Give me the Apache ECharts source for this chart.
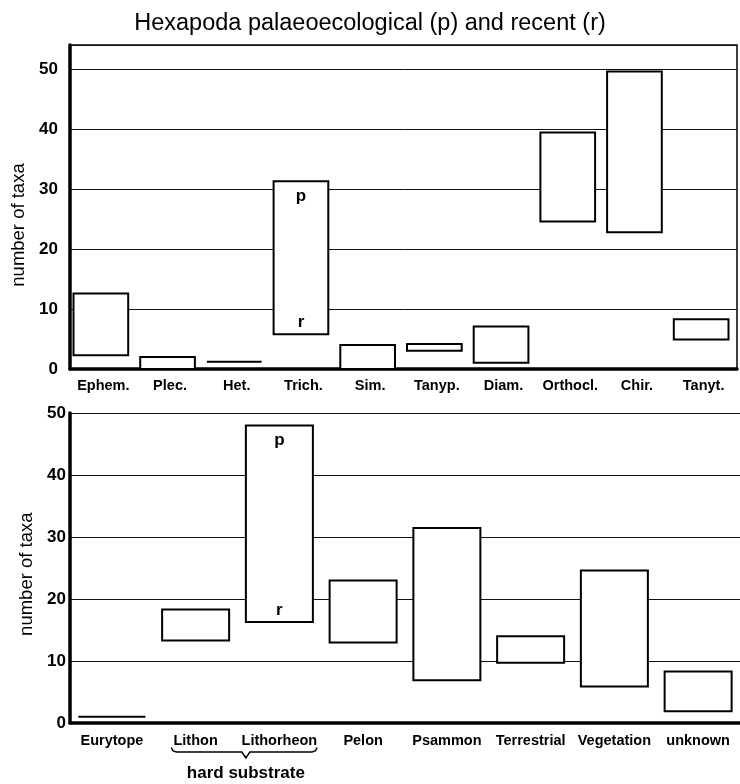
<!DOCTYPE html>
<html>
<head>
<meta charset="utf-8">
<script src="https://cdn.jsdelivr.net/npm/echarts@6/dist/echarts.min.js"></script>
<style>
html,body{margin:0;padding:0;background:#fff;}
#chart{width:740px;height:784px;}
</style>
</head>
<body>
<div id="chart"></div>
<script>
// ---- data ----
const topCategories = ['Ephem.', 'Plec.', 'Het.', 'Trich.', 'Sim.', 'Tanyp.', 'Diam.', 'Orthocl.', 'Chir.', 'Tanyt.'];
const topLow  = [2.3, 0, 1.2, 5.8, 0, 3.05, 1.05, 24.6, 22.8, 4.9];
const topHigh = [12.6, 2.0, 1.2, 31.3, 4.0, 4.15, 7.1, 39.4, 49.6, 8.3];

const bottomCategories = ['Eurytope', 'Lithon', 'Lithorheon', 'Pelon', 'Psammon', 'Terrestrial', 'Vegetation', 'unknown'];
const bottomLow  = [1.0, 13.3, 16.3, 13.0, 6.9, 9.7, 5.9, 1.9];
const bottomHigh = [1.0, 18.3, 48.0, 23.0, 31.45, 14.0, 24.6, 8.3];

const yTicks = [0, 10, 20, 30, 40, 50];
const annotated = ['Trich.', 'Lithorheon'];
const groupLabel = 'hard substrate';
const groupMembers = ['Lithon', 'Lithorheon'];
const titleText = 'Hexapoda palaeoecological (p) and recent (r)';
const yName = 'number of taxa';

// ---- chart ----
const FONT = "'Liberation Sans', Arial, Helvetica, sans-serif";

function boxRenderer(cats, ratio, dx) {
  return function (params, api) {
    const idx = api.value(0);
    const lo = api.coord([idx, api.value(1)]);
    const hi = api.coord([idx, api.value(2)]);
    const w = api.size([1, 0])[0] * ratio;
    const x0 = lo[0] - w / 2 + dx;
    const children = [{
      type: 'rect',
      shape: { x: x0, y: hi[1], width: w, height: lo[1] - hi[1] },
      style: { fill: '#fff', stroke: '#000', lineWidth: 2 }
    }];
    if (annotated.indexOf(cats[idx]) >= 0) {
      children.push({
        type: 'text',
        style: { text: 'p', x: lo[0] + dx, y: hi[1] + 15, align: 'center', verticalAlign: 'middle',
                 font: 'bold 17px ' + FONT, fill: '#000' }
      });
      children.push({
        type: 'text',
        style: { text: 'r', x: lo[0] + dx, y: lo[1] - 12, align: 'center', verticalAlign: 'middle',
                 font: 'bold 17px ' + FONT, fill: '#000' }
      });
    }
    return { type: 'group', children: children };
  };
}

function buildData(cats, low, high) {
  return cats.map((c, i) => [i, low[i], high[i]]);
}

const chart = echarts.init(document.getElementById('chart'), null, { renderer: 'canvas' });

const catLabel = { color: '#000', fontFamily: FONT, fontWeight: 'bold', fontSize: 14.5, interval: 0 };

const option = {
  animation: false,
  backgroundColor: '#fff',
  title: {
    text: titleText, left: 'center', top: 7,
    textStyle: { fontFamily: FONT, fontWeight: 'normal', fontSize: 23.5, color: '#000' }
  },
  grid: [
    { left: 70, right: 3, top: 45, height: 324, show: true, borderColor: '#000', borderWidth: 1.5, backgroundColor: 'transparent' },
    { left: 70, right: 0, top: 413, height: 310 }
  ],
  xAxis: [
    { type: 'category', gridIndex: 0, data: topCategories,
      axisLine: { lineStyle: { color: '#000', width: 3.5 } }, axisTick: { show: false },
      axisLabel: Object.assign({ margin: 9 }, catLabel) },
    { type: 'category', gridIndex: 1, data: bottomCategories,
      axisLine: { lineStyle: { color: '#000', width: 3.5 } }, axisTick: { show: false },
      axisLabel: Object.assign({ margin: 10 }, catLabel) }
  ],
  yAxis: [
    { type: 'value', gridIndex: 0, min: yTicks[0], max: 54, interval: 10,
      axisLine: { show: true, lineStyle: { color: '#000', width: 3.5 } }, axisTick: { show: false },
      axisLabel: { showMaxLabel: false, margin: 12, color: '#000', fontFamily: FONT, fontWeight: 'bold', fontSize: 17 },
      splitLine: { lineStyle: { color: '#111', width: 1 } } },
    { type: 'value', gridIndex: 1, min: yTicks[0], max: yTicks[yTicks.length - 1], interval: 10,
      axisLine: { show: true, lineStyle: { color: '#000', width: 3.5 } }, axisTick: { show: false },
      axisLabel: { margin: 4, color: '#000', fontFamily: FONT, fontWeight: 'bold', fontSize: 17 },
      splitLine: { lineStyle: { color: '#111', width: 1 } } }
  ],
  series: [
    { type: 'custom', xAxisIndex: 0, yAxisIndex: 0, renderItem: boxRenderer(topCategories, 0.82, -2.5),
      data: buildData(topCategories, topLow, topHigh), encode: { x: 0, y: [1, 2] }, clip: false },
    { type: 'custom', xAxisIndex: 1, yAxisIndex: 1, renderItem: boxRenderer(bottomCategories, 0.8, 0),
      data: buildData(bottomCategories, bottomLow, bottomHigh), encode: { x: 0, y: [1, 2] }, clip: false }
  ]
};
chart.setOption(option);

// annotations: axis names and brace, positioned from the axes
const topMid = chart.convertToPixel({ yAxisIndex: 0 }, 24);
const botMid = chart.convertToPixel({ yAxisIndex: 1 }, 24);
const xa = chart.convertToPixel({ xAxisIndex: 1 }, groupMembers[0]);
const xb = chart.convertToPixel({ xAxisIndex: 1 }, groupMembers[1]);
const band = xb - xa;
const y0 = chart.convertToPixel({ yAxisIndex: 1 }, 0);
const bl = xa - band * 0.29, br = xb + band * 0.45, bm = (xa + xb) / 2 + band * 0.1;
const by = y0 + 29;
const bracePts = [
  [bl, by - 4.5], [bl + 1.5, by - 1.3], [bl + 5, by], [bm - 4, by], [bm, by + 6],
  [bm + 4, by], [br - 5, by], [br - 1.5, by - 1.3], [br, by - 4.5]
];

chart.setOption({
  graphic: [
    { type: 'text', x: 19, y: topMid, rotation: Math.PI / 2,
      style: { text: yName, align: 'center', verticalAlign: 'middle', font: '18.5px ' + FONT, fill: '#000' } },
    { type: 'text', x: 27, y: botMid, rotation: Math.PI / 2,
      style: { text: yName, align: 'center', verticalAlign: 'middle', font: '18.5px ' + FONT, fill: '#000' } },
    { type: 'polyline', shape: { points: bracePts }, style: { fill: null, stroke: '#000', lineWidth: 1.5 } },
    { type: 'text', x: bm, y: by + 21,
      style: { text: groupLabel, align: 'center', verticalAlign: 'middle', font: 'bold 17px ' + FONT, fill: '#000' } }
  ]
});
</script>
</body>
</html>
